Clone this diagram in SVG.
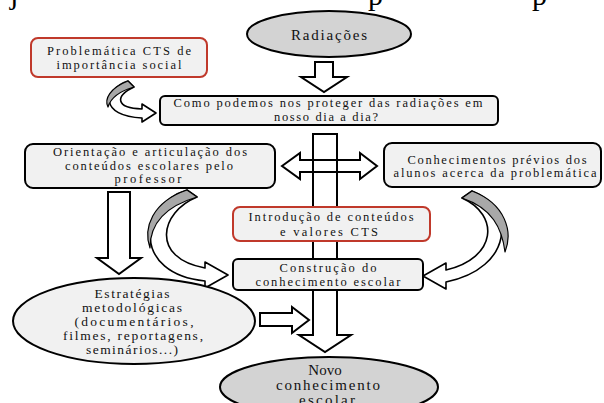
<svg xmlns="http://www.w3.org/2000/svg" width="604" height="403" viewBox="0 0 604 403" font-family="'Liberation Serif', 'DejaVu Serif', serif">
<style>
.box{fill:#f1f1f1;stroke:#000;stroke-width:2}
.red{fill:#f1f1f1;stroke:#c0392b;stroke-width:2}
.ellg{fill:#d3d3d3;stroke:#000;stroke-width:2}
.elll{fill:#f1f1f1;stroke:#000;stroke-width:2}
.ha{fill:#fff;stroke:#000;stroke-width:2;stroke-linejoin:miter}
.cv{fill:#fff;stroke:#000;stroke-width:1.6;stroke-linejoin:round}
.sh{fill:#a8a8a8;stroke:#000;stroke-width:1.2;stroke-linejoin:round}
.ln{fill:none;stroke:#000;stroke-width:2}
text{font-family:'Liberation Serif', 'DejaVu Serif', serif;font-size:12.5px;fill:#111;text-anchor:middle}
.big{font-size:15px}
.mid{font-size:13.5px}
.pg{font-size:30px;fill:#000;text-anchor:start}
</style>
<rect width="604" height="403" fill="#fff"/>
<g id="page-fragment">
<text class="pg" x="10" y="4">j</text>
<text class="pg" x="368" y="5">p</text>
<text class="pg" x="532" y="5">p</text>
</g>
<g id="connectors">
<path class="ha" d="M315,62 H333 V77 H347 L324,92 L301,77 H315 Z"/>
<path class="ha" d="M313,134 H337 V335 H351 L325,352 L299,335 H313 Z"/>
<path class="ha" d="M282,166 L300,153 V160 H360 V153 L377,166 L360,179 V172 H300 V179 Z"/>
<path class="ln" d="M313,150 V182 M337,150 V182"/>
<path class="ha" d="M108,192 H130 V258 H141 L119,274 L97,258 H108 Z"/>
<path class="ha" d="M260,313 H292 V307 L309,320 L292,333 V326 H260 Z"/>
<path class="cv" d="M134,87 C115,96 115,108 142,109 L142,104 L156,113 L142,122 L142,118 C100,116 102,90 128,81 Z"/>
<path class="sh" d="M128,81 C110,88 104,99 108,107 C111,97 120,91 134,87 Z"/>
<path class="cv" d="M197,197 C160,212 150,258 205,268 L205,262 L228,275 L205,288 L205,281 C132,274 138,205 187,190 Z"/>
<path class="sh" d="M187,190 C152,202 143,228 150,248 C150,225 163,207 197,197 Z"/>
<path class="cv" d="M462,198 C500,215 497,258 446,270 L446,263 L423,276 L446,289 L446,282 C514,268 516,208 472,191 Z"/>
<path class="sh" d="M472,191 C506,204 513,232 505,252 C502,228 492,208 462,198 Z"/>
</g>
<g id="radiacoes">
<ellipse class="ellg" cx="329" cy="34" rx="82" ry="23"/>
<text class="big" x="329" y="40" textLength="76">Radiações</text>
</g>
<g id="problematica">
<rect class="red" x="31" y="38" width="176" height="39" rx="7"/>
<text x="119" y="55" textLength="144">Problemática CTS de</text>
<text x="119" y="69" textLength="125">importância social</text>
</g>
<g id="pergunta">
<rect class="box" x="160" y="96" width="338" height="29" rx="5"/>
<text x="328" y="107" textLength="309">Como podemos nos proteger das radiações em</text>
<text x="326" y="121" textLength="104">nosso dia a dia?</text>
</g>
<g id="orientacao">
<rect class="box" x="25" y="144" width="250" height="44" rx="8"/>
<text x="150" y="156" textLength="194">Orientação e articulação dos</text>
<text x="149" y="170" textLength="168">conteúdos escolares pelo</text>
<text x="148" y="183" textLength="67">professor</text>
</g>
<g id="conhecimentos">
<rect class="box" x="384" y="143" width="217" height="44" rx="8"/>
<text x="497" y="164" textLength="179">Conhecimentos prévios dos</text>
<text x="495" y="177" textLength="203">alunos acerca da problemática</text>
</g>
<g id="introducao">
<rect class="red" x="233" y="207" width="197" height="34" rx="7"/>
<text x="331" y="221" textLength="165">Introdução de conteúdos</text>
<text x="329" y="236" textLength="98">e valores CTS</text>
</g>
<g id="construcao">
<rect class="box" x="233" y="259" width="190" height="31" rx="5"/>
<text x="328" y="272" textLength="97">Construção do</text>
<text x="328" y="286" textLength="145">conhecimento escolar</text>
</g>
<g id="estrategias">
<ellipse class="elll" cx="134" cy="321" rx="121" ry="43"/>
<text class="mid" x="132" y="298" textLength="75">Estratégias</text>
<text class="mid" x="132" y="312" textLength="100">metodológicas</text>
<text class="mid" x="134" y="326" textLength="119">(documentários,</text>
<text class="mid" x="133" y="340" textLength="140">filmes, reportagens,</text>
<text class="mid" x="132" y="354" textLength="92">seminários...)</text>
</g>
<g id="novo">
<ellipse class="ellg" cx="329" cy="387" rx="109" ry="30"/>
<text class="big" x="325" y="375">Novo</text>
<text class="big" x="328" y="390" textLength="104">conhecimento</text>
<text class="big" x="327" y="405" textLength="56">escolar</text>
</g>
</svg>
